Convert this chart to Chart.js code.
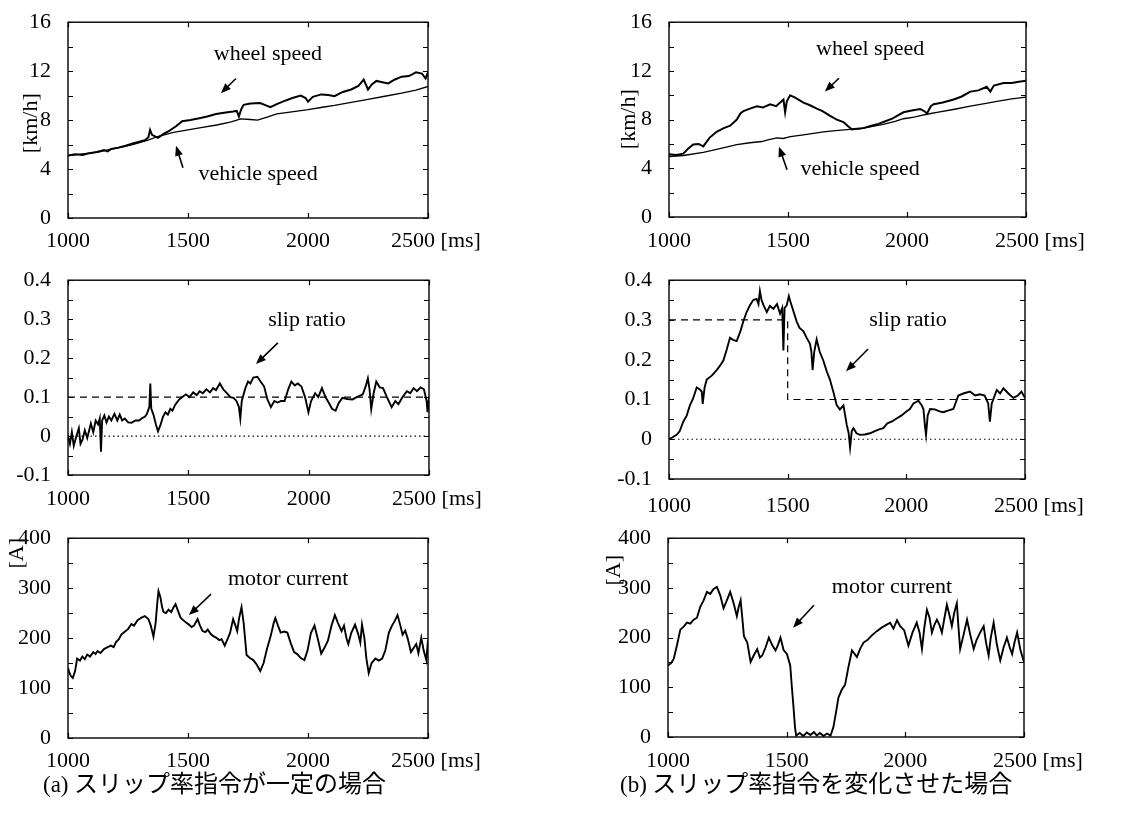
<!DOCTYPE html>
<html>
<head>
<meta charset="utf-8">
<script src="https://cdn.jsdelivr.net/npm/chart.js@4.4.1/dist/chart.umd.min.js"></script>
<style>
  body { margin: 0; background: #fff; width: 1136px; height: 816px; position: relative; overflow: hidden; }
  .panel { position: absolute; }
  .cap { position: absolute; font-family: "Noto Sans CJK JP"; font-size: 24px; line-height: 28px; color: #000; white-space: nowrap; }
  .cap span { font-family: "Liberation Serif"; font-size: 23px; }
</style>
</head>
<body>
<div class="panel" style="left:0;top:0"><canvas id="a1" width="560" height="258"></canvas></div>
<div class="panel" style="left:0;top:258px"><canvas id="a2" width="560" height="258"></canvas></div>
<div class="panel" style="left:0;top:516px"><canvas id="a3" width="560" height="262"></canvas></div>
<div class="panel" style="left:568px;top:0"><canvas id="b1" width="568" height="258"></canvas></div>
<div class="panel" style="left:568px;top:258px"><canvas id="b2" width="568" height="258"></canvas></div>
<div class="panel" style="left:568px;top:516px"><canvas id="b3" width="568" height="262"></canvas></div>
<div class="cap" style="left:43px;top:768px"><span>(a)</span> スリップ率指令が一定の場合</div>
<div class="cap" style="left:620px;top:768px"><span>(b)</span> スリップ率指令を変化させた場合</div>

<script>
// time axis [ms]
const timeTicks = [1000, 1500, 2000, 2500];

// (a) constant slip ratio command
const wheelSpeedA = [[1000,5.1],[1030,5.2],[1060,5.15],[1090,5.3],[1120,5.4],[1150,5.55],[1165,5.45],[1180,5.65],[1210,5.75],[1240,5.9],[1270,6.1],[1300,6.25],[1320,6.35],[1335,6.6],[1342,7.2],[1350,6.8],[1375,6.55],[1400,6.9],[1420,7.1],[1450,7.5],[1476,7.9],[1510,8.0],[1547,8.15],[1580,8.3],[1617,8.5],[1650,8.6],[1688,8.7],[1703,8.75],[1712,8.3],[1722,8.9],[1732,9.25],[1760,9.35],[1800,9.4],[1825,9.2],[1843,9.05],[1870,9.3],[1900,9.55],[1935,9.8],[1970,10.0],[1990,9.8],[2000,9.5],[2020,9.9],[2055,10.1],[2085,10.05],[2110,9.95],[2145,10.3],[2180,10.5],[2210,10.8],[2232,11.3],[2250,10.5],[2265,10.9],[2285,11.2],[2310,11.1],[2335,11.0],[2360,11.3],[2390,11.55],[2420,11.6],[2450,11.9],[2475,11.8],[2490,11.4],[2500,11.9]];
const vehicleSpeedA = [[1000,5.1],[1130,5.4],[1200,5.7],[1270,6.0],[1330,6.35],[1380,6.7],[1440,7.0],[1500,7.2],[1560,7.4],[1620,7.6],[1680,7.85],[1720,8.1],[1760,8.05],[1790,8.0],[1830,8.25],[1870,8.5],[1940,8.7],[2000,8.85],[2060,9.05],[2110,9.2],[2180,9.45],[2250,9.7],[2320,9.95],[2390,10.2],[2450,10.45],[2500,10.75]];
const slipA = [[1000,0.0],[1008,-0.02],[1016,0.01],[1024,-0.025],[1035,0.0],[1045,0.02],[1052,-0.02],[1060,-0.01],[1070,0.015],[1080,-0.005],[1095,0.032],[1105,0.01],[1115,0.04],[1125,0.03],[1132,0.045],[1137,-0.04],[1142,0.04],[1151,0.053],[1160,0.035],[1170,0.05],[1180,0.04],[1193,0.057],[1205,0.04],[1215,0.055],[1225,0.04],[1236,0.045],[1250,0.035],[1264,0.034],[1280,0.04],[1295,0.04],[1306,0.045],[1320,0.05],[1328,0.057],[1338,0.075],[1342,0.135],[1346,0.07],[1355,0.055],[1365,0.03],[1374,0.012],[1385,0.03],[1395,0.05],[1405,0.061],[1415,0.055],[1425,0.07],[1434,0.065],[1445,0.08],[1462,0.094],[1475,0.1],[1490,0.107],[1505,0.1],[1520,0.112],[1535,0.105],[1547,0.115],[1560,0.11],[1575,0.12],[1590,0.112],[1603,0.123],[1615,0.118],[1631,0.135],[1645,0.12],[1660,0.11],[1675,0.1],[1688,0.098],[1700,0.09],[1710,0.075],[1716,0.045],[1722,0.09],[1737,0.123],[1748,0.14],[1758,0.135],[1770,0.15],[1787,0.152],[1800,0.14],[1815,0.127],[1828,0.095],[1843,0.074],[1857,0.09],[1871,0.086],[1885,0.09],[1900,0.09],[1915,0.12],[1928,0.14],[1942,0.13],[1955,0.135],[1970,0.127],[1985,0.1],[1999,0.061],[2010,0.09],[2027,0.11],[2040,0.1],[2055,0.123],[2070,0.1],[2083,0.086],[2097,0.07],[2112,0.065],[2125,0.085],[2140,0.098],[2160,0.095],[2182,0.094],[2200,0.1],[2225,0.107],[2238,0.13],[2246,0.148],[2253,0.12],[2260,0.069],[2270,0.11],[2281,0.14],[2295,0.125],[2309,0.123],[2325,0.1],[2345,0.074],[2360,0.09],[2373,0.082],[2390,0.1],[2408,0.115],[2422,0.11],[2436,0.123],[2450,0.115],[2465,0.125],[2479,0.12],[2490,0.09],[2494,0.061],[2500,0.1]];
const slipCmdA = [[1000,0.1],[2500,0.1]];
const currentA = [[1000,140],[1005,132],[1012,124],[1020,120],[1030,135],[1038,159],[1050,155],[1060,163],[1070,158],[1080,167],[1092,163],[1105,172],[1115,168],[1123,174],[1135,170],[1150,178],[1165,182],[1179,185],[1190,182],[1200,192],[1212,198],[1222,207],[1235,212],[1250,218],[1264,228],[1275,225],[1290,236],[1306,241],[1320,244],[1335,238],[1345,225],[1356,203],[1365,230],[1372,270],[1377,294],[1385,282],[1392,262],[1398,252],[1408,250],[1419,257],[1430,252],[1440,262],[1448,268],[1458,255],[1469,241],[1480,236],[1492,231],[1504,227],[1515,222],[1525,225],[1540,238],[1550,225],[1561,214],[1572,212],[1582,217],[1595,208],[1605,204],[1617,201],[1630,196],[1640,198],[1653,185],[1662,195],[1675,210],[1688,238],[1697,226],[1705,214],[1713,240],[1723,262],[1732,230],[1744,166],[1758,160],[1772,156],[1785,148],[1801,134],[1815,150],[1829,178],[1845,205],[1857,230],[1864,240],[1875,225],[1886,211],[1900,213],[1914,211],[1928,190],[1942,172],[1955,168],[1970,160],[1985,156],[1998,175],[2012,210],[2027,225],[2040,200],[2055,169],[2068,180],[2083,195],[2098,225],[2112,246],[2125,230],[2140,214],[2150,225],[2160,200],[2168,188],[2180,210],[2196,227],[2208,210],[2218,191],[2225,227],[2235,200],[2243,160],[2253,130],[2265,150],[2281,159],[2295,155],[2309,159],[2322,175],[2337,211],[2350,225],[2362,235],[2373,246],[2385,225],[2394,207],[2405,215],[2415,200],[2429,172],[2440,180],[2451,188],[2460,170],[2472,201],[2482,175],[2493,156],[2500,195]];

// (b) changing slip ratio command
const wheelSpeedB = [[1000,5.15],[1030,5.1],[1060,5.2],[1080,5.6],[1102,5.95],[1125,6.0],[1144,5.8],[1170,6.5],[1200,7.0],[1230,7.3],[1257,7.5],[1285,8.0],[1300,8.5],[1313,8.7],[1340,8.9],[1369,9.1],[1395,9.0],[1425,9.25],[1450,9.1],[1481,9.65],[1488,8.6],[1495,9.5],[1509,10.0],[1530,9.8],[1565,9.4],[1590,9.2],[1621,8.9],[1645,8.7],[1677,8.3],[1705,8.0],[1733,7.8],[1750,7.5],[1768,7.2],[1790,7.25],[1817,7.3],[1850,7.5],[1880,7.65],[1901,7.8],[1940,8.1],[1985,8.6],[2020,8.75],[2056,8.86],[2072,8.7],[2084,8.5],[2100,9.1],[2112,9.26],[2150,9.4],[2196,9.65],[2230,9.9],[2266,10.3],[2300,10.4],[2335,10.7],[2350,10.3],[2365,10.8],[2406,11.0],[2440,11.0],[2470,11.1],[2500,11.2]];
const vehicleSpeedB = [[1000,4.97],[1060,5.05],[1144,5.3],[1200,5.55],[1285,5.95],[1340,6.1],[1390,6.2],[1420,6.35],[1453,6.5],[1480,6.45],[1510,6.6],[1565,6.75],[1600,6.85],[1649,7.0],[1700,7.1],[1761,7.2],[1800,7.25],[1845,7.4],[1900,7.6],[1950,7.85],[1985,8.07],[2030,8.2],[2056,8.33],[2100,8.5],[2126,8.6],[2200,8.85],[2266,9.1],[2320,9.3],[2378,9.5],[2440,9.7],[2500,9.85]];
const slipB = [[1000,0.0],[1015,0.005],[1032,0.011],[1045,0.02],[1060,0.044],[1075,0.06],[1088,0.085],[1100,0.1],[1117,0.13],[1130,0.125],[1138,0.12],[1142,0.089],[1150,0.13],[1159,0.15],[1180,0.16],[1201,0.174],[1215,0.185],[1229,0.198],[1243,0.225],[1257,0.255],[1270,0.25],[1285,0.247],[1300,0.27],[1313,0.296],[1327,0.32],[1341,0.337],[1355,0.35],[1369,0.353],[1377,0.34],[1383,0.373],[1390,0.35],[1400,0.335],[1412,0.32],[1425,0.335],[1440,0.328],[1455,0.34],[1468,0.316],[1477,0.33],[1482,0.223],[1487,0.33],[1496,0.337],[1505,0.36],[1510,0.349],[1520,0.33],[1538,0.296],[1550,0.28],[1566,0.272],[1580,0.255],[1594,0.24],[1600,0.22],[1605,0.174],[1612,0.22],[1622,0.251],[1635,0.22],[1650,0.198],[1665,0.17],[1678,0.15],[1692,0.12],[1707,0.085],[1720,0.075],[1735,0.085],[1749,0.036],[1757,0.015],[1763,-0.021],[1770,0.02],[1777,0.028],[1790,0.015],[1805,0.011],[1825,0.012],[1847,0.015],[1865,0.02],[1885,0.025],[1903,0.028],[1920,0.04],[1940,0.045],[1959,0.052],[1980,0.06],[2000,0.07],[2015,0.076],[2030,0.09],[2051,0.097],[2065,0.085],[2072,0.076],[2079,0.03],[2083,0.011],[2090,0.06],[2100,0.076],[2120,0.075],[2140,0.07],[2156,0.068],[2175,0.072],[2198,0.076],[2210,0.095],[2219,0.11],[2240,0.115],[2268,0.12],[2290,0.11],[2310,0.113],[2330,0.11],[2345,0.09],[2352,0.044],[2360,0.09],[2381,0.124],[2395,0.115],[2409,0.128],[2430,0.115],[2451,0.104],[2470,0.11],[2485,0.12],[2500,0.104]];
const slipCmdB = [[1000,0.3],[1500,0.3],[1500,0.1],[2500,0.1]];
const currentB = [[1000,144],[1012,148],[1024,157],[1038,185],[1052,216],[1066,222],[1080,230],[1094,228],[1108,236],[1122,240],[1136,262],[1150,275],[1164,292],[1178,288],[1192,298],[1206,302],[1220,285],[1234,259],[1248,275],[1262,292],[1276,270],[1290,243],[1298,262],[1306,275],[1313,240],[1320,203],[1334,190],[1348,151],[1362,165],[1376,177],[1387,160],[1397,164],[1411,180],[1425,200],[1439,185],[1453,174],[1463,185],[1474,200],[1487,175],[1501,167],[1515,144],[1522,100],[1529,59],[1535,20],[1540,3],[1555,8],[1570,2],[1585,9],[1600,4],[1615,10],[1627,3],[1640,8],[1655,2],[1670,7],[1685,3],[1697,20],[1708,50],[1718,79],[1732,95],[1746,105],[1760,140],[1775,174],[1785,168],[1796,161],[1810,178],[1824,190],[1840,195],[1860,205],[1880,213],[1900,220],[1918,225],[1936,230],[1950,218],[1965,235],[1978,223],[1995,215],[2013,184],[2030,210],[2048,230],[2060,210],[2070,177],[2080,220],[2091,256],[2102,240],[2112,210],[2122,225],[2133,236],[2144,225],[2154,210],[2165,240],[2175,266],[2186,245],[2196,223],[2206,250],[2217,269],[2224,220],[2231,177],[2245,205],[2260,236],[2274,205],[2288,177],[2300,195],[2315,210],[2330,223],[2340,190],[2351,164],[2360,200],[2372,230],[2386,185],[2400,154],[2414,180],[2428,200],[2440,180],[2450,167],[2460,190],[2471,210],[2485,175],[2500,151]];

const zeroLine = [[1000,0],[2500,0]];

function toXY(pairs) {
    return pairs.map(p => ({x: p[0], y: p[1]}));
}

// frame, inner ticks, last time label, axis title, annotations with arrows
const frameTicks = {
    id: 'frameTicks',
    afterDraw(chart, args, opts) {
        const ctx = chart.ctx;
        const a = chart.chartArea;
        const xs = chart.scales.x;
        const ys = chart.scales.y;
        ctx.save();
        ctx.strokeStyle = '#000';
        ctx.fillStyle = '#000';
        ctx.lineWidth = 1.4;
        ctx.strokeRect(a.left, a.top, a.right - a.left, a.bottom - a.top);
        ctx.lineWidth = 1.2;
        ctx.beginPath();
        ys.ticks.forEach(t => {
            const py = Math.round(ys.getPixelForValue(t.value)) + 0.5;
            ctx.moveTo(a.left, py); ctx.lineTo(a.left + 5, py);
            ctx.moveTo(a.right, py); ctx.lineTo(a.right - 5, py);
        });
        xs.ticks.forEach(t => {
            const px = Math.round(xs.getPixelForValue(t.value)) + 0.5;
            ctx.moveTo(px, a.top); ctx.lineTo(px, a.top + 5);
            ctx.moveTo(px, a.bottom); ctx.lineTo(px, a.bottom - 5);
        });
        ctx.stroke();

        ctx.font = '22px "Liberation Serif"';
        ctx.textBaseline = 'middle';
        ctx.textAlign = 'center';
        const last = timeTicks[timeTicks.length - 1];
        ctx.fillText(last + ' [ms]', xs.getPixelForValue(last) + opts.msDx, a.bottom + opts.labelDy + 1);

        if (opts.title) {
            ctx.save();
            ctx.translate(a.left + opts.title.dx, a.top + opts.title.dy);
            ctx.rotate(-Math.PI / 2);
            ctx.fillText(opts.title.text, 0, 0);
            ctx.restore();
        }

        (opts.notes || []).forEach(n => {
            ctx.fillText(n.text, xs.getPixelForValue(n.x), ys.getPixelForValue(n.y));
            const x1 = xs.getPixelForValue(n.arrow[0]), y1 = ys.getPixelForValue(n.arrow[1]);
            const x2 = xs.getPixelForValue(n.arrow[2]), y2 = ys.getPixelForValue(n.arrow[3]);
            const ang = Math.atan2(y2 - y1, x2 - x1);
            ctx.lineWidth = 1.6;
            ctx.beginPath();
            ctx.moveTo(x1, y1);
            ctx.lineTo(x2 - 6 * Math.cos(ang), y2 - 6 * Math.sin(ang));
            ctx.stroke();
            ctx.beginPath();
            ctx.moveTo(x2, y2);
            ctx.lineTo(x2 - 10 * Math.cos(ang) + 4 * Math.sin(ang), y2 - 10 * Math.sin(ang) - 4 * Math.cos(ang));
            ctx.lineTo(x2 - 10 * Math.cos(ang) - 4 * Math.sin(ang), y2 - 10 * Math.sin(ang) + 4 * Math.cos(ang));
            ctx.closePath();
            ctx.fill();
        });
        ctx.restore();
    }
};

function line(pairs, width) {
    return {data: toXY(pairs), borderColor: '#000', borderWidth: width, pointRadius: 0, tension: 0, fill: false};
}
function refLine(pairs, dash) {
    return {data: toXY(pairs), borderColor: '#000', borderWidth: 1.2, borderDash: dash, pointRadius: 0, tension: 0, fill: false};
}

function makePanel(id, p) {
    const serif = {family: 'Liberation Serif', size: 22};
    new Chart(document.getElementById(id), {
        type: 'line',
        data: {datasets: p.datasets},
        options: {
            responsive: false,
            animation: false,
            devicePixelRatio: 1,
            layout: {padding: {left: 0, top: p.padTop, right: p.padRight, bottom: 0}},
            plugins: {
                legend: {display: false},
                tooltip: {enabled: false},
                frameTicks: {title: p.title, notes: p.notes, msDx: p.msDx, labelDy: p.labelDy}
            },
            scales: {
                x: {
                    type: 'linear', min: 1000, max: 2500,
                    afterBuildTicks: s => { s.ticks = timeTicks.map(v => ({value: v})); },
                    afterFit: s => { s.height = p.xHeight; },
                    grid: {display: false}, border: {display: false},
                    ticks: {font: serif, color: '#000', padding: p.labelDy - 20, maxRotation: 0, autoSkip: false,
                            callback: v => v === timeTicks[timeTicks.length - 1] ? '' : String(v)}
                },
                y: {
                    min: p.yMin, max: p.yMax,
                    afterFit: s => { s.width = p.yWidth; },
                    grid: {display: false}, border: {display: false},
                    ticks: {font: serif, color: '#000', padding: 9, stepSize: p.step, autoSkip: false,
                            callback: v => {
                                const k = Math.round(v / p.major * 1000) / 1000;
                                if (Math.abs(k - Math.round(k)) > 1e-6) return '';
                                return String(Math.round(v * 100) / 100);
                            }}
                }
            }
        },
        plugins: [frameTicks]
    });
}

document.addEventListener('DOMContentLoaded', function () {
    makePanel('a1', {
        padTop: 15, padRight: 132, xHeight: 40, yWidth: 68, labelDy: 22, msDx: 8,
        yMin: 0, yMax: 16, step: 2, major: 4,
        datasets: [line(wheelSpeedA, 2), line(vehicleSpeedA, 1.3)],
        title: {text: '[km/h]', dx: -37, dy: 101},
        notes: [
            {text: 'wheel speed', x: 1833, y: 13.4, arrow: [1700, 11.4, 1637, 10.2]},
            {text: 'vehicle speed', x: 1792, y: 3.6, arrow: [1479, 4.1, 1450, 5.9]}
        ]
    });
    makePanel('a2', {
        padTop: 15, padRight: 131, xHeight: 41, yWidth: 68, labelDy: 23, msDx: 8,
        yMin: -0.1, yMax: 0.4, step: 0.05, major: 0.1,
        datasets: [line(slipA, 1.9), refLine(slipCmdA, [7, 5]), refLine(zeroLine, [1.5, 3])],
        notes: [
            {text: 'slip ratio', x: 1993, y: 0.296, arrow: [1872, 0.239, 1781, 0.185]}
        ]
    });
    makePanel('a3', {
        padTop: 14, padRight: 132, xHeight: 40, yWidth: 68, labelDy: 22, msDx: 8,
        yMin: 0, yMax: 400, step: 50, major: 100,
        datasets: [line(currentA, 1.9)],
        title: {text: '[A]', dx: -51, dy: 15},
        notes: [
            {text: 'motor current', x: 1917, y: 317, arrow: [1596, 288, 1504, 246]}
        ]
    });
    makePanel('b1', {
        padTop: 15, padRight: 110, xHeight: 41, yWidth: 101, labelDy: 23, msDx: 14,
        yMin: 0, yMax: 16, step: 2, major: 4,
        datasets: [line(wheelSpeedB, 2), line(vehicleSpeedB, 1.3)],
        title: {text: '[km/h]', dx: -40, dy: 97},
        notes: [
            {text: 'wheel speed', x: 1845, y: 13.8, arrow: [1714, 11.4, 1655, 10.3]},
            {text: 'vehicle speed', x: 1803, y: 3.96, arrow: [1496, 3.88, 1462, 5.78]}
        ]
    });
    makePanel('b2', {
        padTop: 16, padRight: 111, xHeight: 37, yWidth: 101, labelDy: 26, msDx: 14,
        yMin: -0.1, yMax: 0.4, step: 0.05, major: 0.1,
        datasets: [line(slipB, 1.9), refLine(slipCmdB, [7, 5]), refLine(zeroLine, [1.5, 3])],
        notes: [
            {text: 'slip ratio', x: 2007, y: 0.3, arrow: [1839, 0.227, 1746, 0.171]}
        ]
    });
    makePanel('b3', {
        padTop: 17, padRight: 112, xHeight: 41, yWidth: 100, labelDy: 23, msDx: 14,
        yMin: 0, yMax: 400, step: 50, major: 100,
        datasets: [line(currentB, 1.9)],
        title: {text: '[A]', dx: -54, dy: 32},
        notes: [
            {text: 'motor current', x: 1944, y: 302, arrow: [1615, 265, 1527, 220]}
        ]
    });
});
</script>
</body>
</html>
